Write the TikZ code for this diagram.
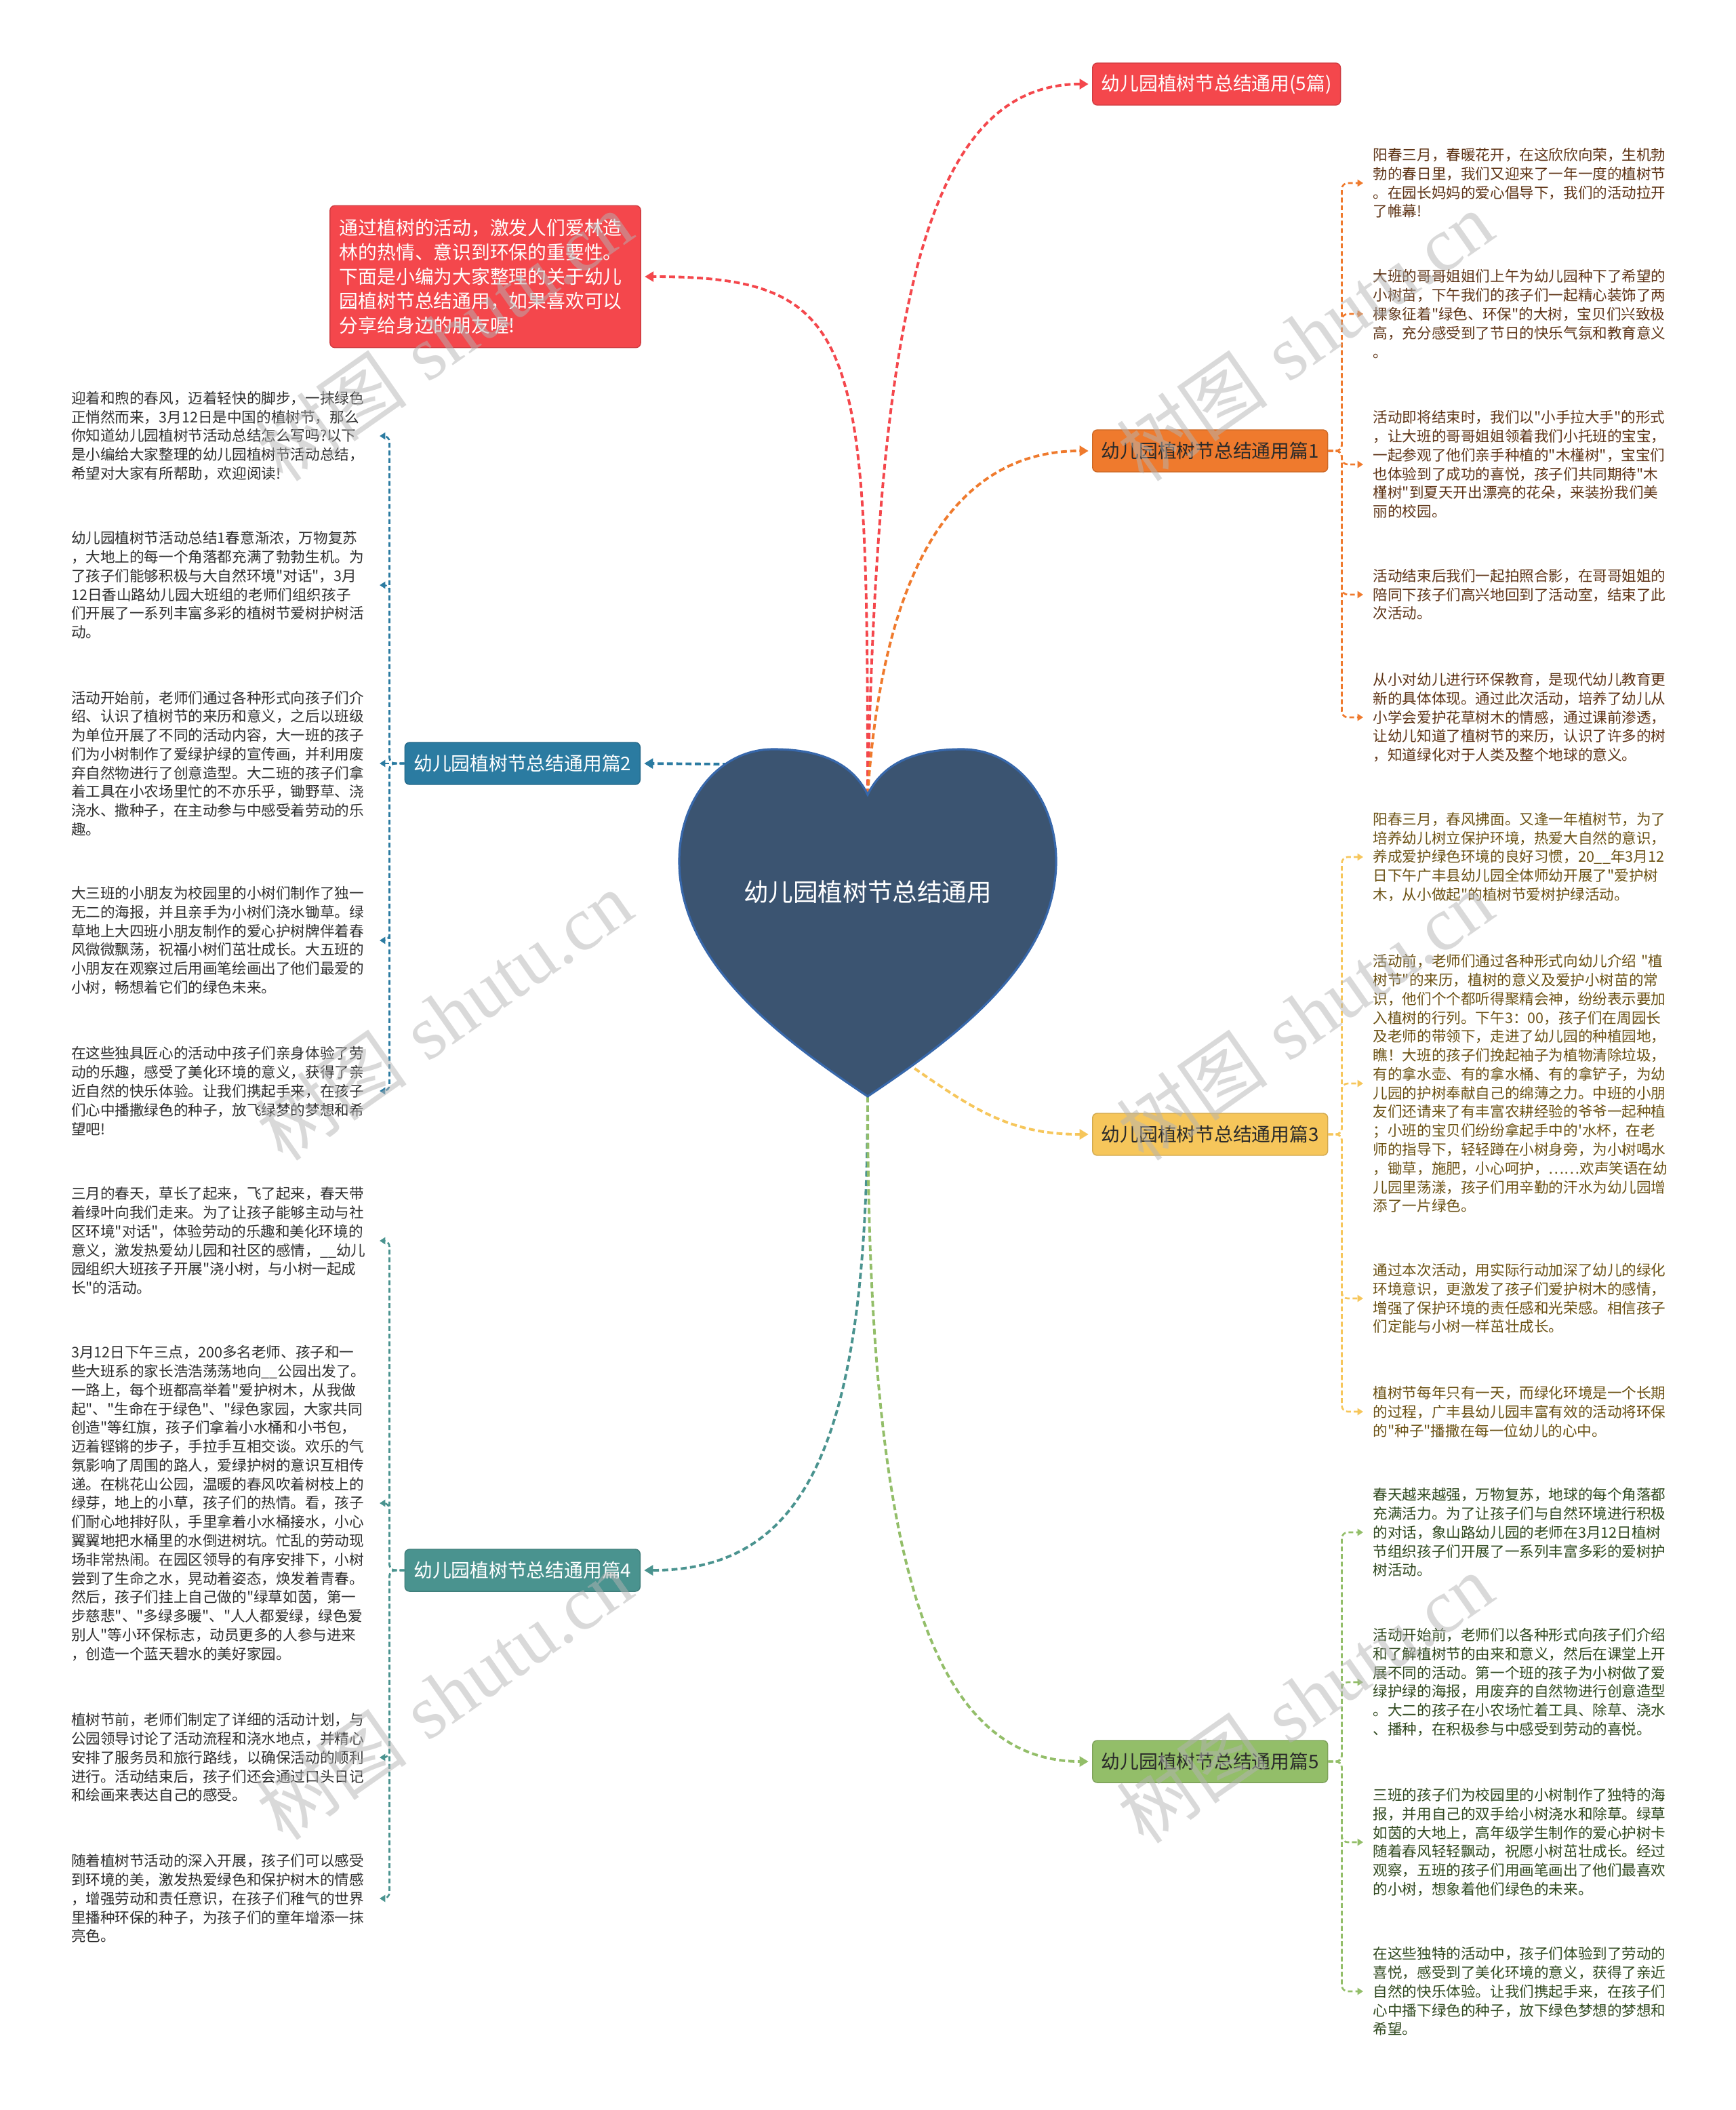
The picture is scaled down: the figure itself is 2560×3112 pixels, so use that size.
\documentclass[tikz,border=0pt]{standalone}
\usepackage{xcolor}
\usepackage{fontspec}
\usepackage{tikz}
\usetikzlibrary{positioning, arrows.meta}
\newfontfamily\cjk{Noto Sans CJK SC}
\newfontfamily\wmlatin{Liberation Serif}

\definecolor{heartfill}{HTML}{3B5471}
\definecolor{heartline}{HTML}{3767AA}
\definecolor{redtopic}{HTML}{F4474C}
\definecolor{orangetopic}{HTML}{EF7A2D}
\definecolor{yellowtopic}{HTML}{F6C65B}
\definecolor{greentopic}{HTML}{93BE69}
\definecolor{bluetopic}{HTML}{2B7BA1}
\definecolor{tealtopic}{HTML}{4A938F}
\definecolor{topicdark}{HTML}{2A2A2A}
\definecolor{orangetext}{HTML}{5E3416}
\definecolor{yellowtext}{HTML}{6B5113}
\definecolor{greentext}{HTML}{30491F}
\definecolor{greytext}{HTML}{2E2E2E}
\definecolor{wmgrey}{HTML}{B4B4B4}

\tikzset{
  topicbox/.style={rounded corners=2pt, line width=0.4pt, inner xsep=3.7pt,
    minimum height=0.62cm, font=\cjk\fontsize{7.9pt}{9.5pt}\selectfont},
  leafbox/.style={inner xsep=0.14cm, inner ysep=0pt, text width=4.40cm, align=left,
    font=\cjk\fontsize{6.14pt}{7.9pt}\selectfont},
  mainlink/.style={line width=1.1pt, dash pattern=on 2.5pt off 1.4pt,
    -{Triangle[length=3.7pt,width=4.2pt]}, shorten >=1.5pt},
  sublink/.style={line width=0.75pt, dash pattern=on 2pt off 1.2pt, rounded corners=2.5pt,
    -{Triangle[length=2.4pt,width=2.9pt]}},
  wmtext/.style={rotate=35, text=wmgrey, text opacity=0.5,
    font=\fontsize{32pt}{32pt}\selectfont}
}

\begin{document}
\begin{tikzpicture}[x=0.01cm, y=-0.01cm]
  \useasboundingbox (0,0) rectangle (2560,3112);

  % points on the heart
  \coordinate (cusp) at (1280,1172);
  \coordinate (tip) at (1280,1617);
  \coordinate (hleft) at (1075,1127);
  \coordinate (hright) at (1338,1568);

  % topics
  \node[topicbox, fill=redtopic, draw=redtopic!85!black, text=white, anchor=west] (sum) at (1611,124) {幼儿园植树节总结通用(5篇)};
  \node[fill=redtopic, draw=redtopic!85!black, rounded corners=2pt, text=white, text width=4.3cm, align=left,
        inner xsep=0.14cm, inner ysep=0.2cm, font=\cjk\fontsize{7.9pt}{10.2pt}\selectfont] (intro) at (716,408) {%
    通过植树的活动，激发人们爱林造\\
    林的热情、意识到环保的重要性。\\
    下面是小编为大家整理的关于幼儿\\
    园植树节总结通用，如果喜欢可以\\
    分享给身边的朋友喔!};
  \node[topicbox, fill=orangetopic, draw=orangetopic!85!black, text=topicdark, anchor=west] (p1) at (1611,665) {幼儿园植树节总结通用篇1};
  \node[topicbox, fill=bluetopic, draw=bluetopic!85!black, text=white, anchor=east] (p2) at (945,1126) {幼儿园植树节总结通用篇2};
  \node[topicbox, fill=yellowtopic, draw=yellowtopic!85!black, text=topicdark, anchor=west] (p3) at (1611,1673) {幼儿园植树节总结通用篇3};
  \node[topicbox, fill=tealtopic, draw=tealtopic!85!black, text=white, anchor=east] (p4) at (945,2316) {幼儿园植树节总结通用篇4};
  \node[topicbox, fill=greentopic, draw=greentopic!85!black, text=topicdark, anchor=west] (p5) at (1611,2598) {幼儿园植树节总结通用篇5};

  % 篇1
  \node[leafbox, text=orangetext, anchor=west] (r1a) at (2011,270) {%
    阳春三月，春暖花开，在这欣欣向荣，生机勃\\
    勃的春日里，我们又迎来了一年一度的植树节\\
    。在园长妈妈的爱心倡导下，我们的活动拉开\\
    了帷幕!};
  \node[leafbox, text=orangetext, anchor=west] (r1b) at (2011,463) {%
    大班的哥哥姐姐们上午为幼儿园种下了希望的\\
    小树苗，下午我们的孩子们一起精心装饰了两\\
    棵象征着"绿色、环保"的大树，宝贝们兴致极\\
    高，充分感受到了节日的快乐气氛和教育意义\\
    。};
  \node[leafbox, text=orangetext, anchor=west] (r1c) at (2011,685) {%
    活动即将结束时，我们以"小手拉大手"的形式\\
    ，让大班的哥哥姐姐领着我们小托班的宝宝，\\
    一起参观了他们亲手种植的"木槿树"，宝宝们\\
    也体验到了成功的喜悦，孩子们共同期待"木\\
    槿树"到夏天开出漂亮的花朵，来装扮我们美\\
    丽的校园。};
  \node[leafbox, text=orangetext, anchor=west] (r1d) at (2011,877) {%
    活动结束后我们一起拍照合影，在哥哥姐姐的\\
    陪同下孩子们高兴地回到了活动室，结束了此\\
    次活动。};
  \node[leafbox, text=orangetext, anchor=west] (r1e) at (2011,1058) {%
    从小对幼儿进行环保教育，是现代幼儿教育更\\
    新的具体体现。通过此次活动，培养了幼儿从\\
    小学会爱护花草树木的情感，通过课前渗透，\\
    让幼儿知道了植树节的来历，认识了许多的树\\
    ，知道绿化对于人类及整个地球的意义。};

  % 篇3
  \node[leafbox, text=yellowtext, anchor=west] (r3a) at (2011,1264) {%
    阳春三月，春风拂面。又逢一年植树节，为了\\
    培养幼儿树立保护环境，热爱大自然的意识，\\
    养成爱护绿色环境的良好习惯，20\_\_年3月12\\
    日下午广丰县幼儿园全体师幼开展了"爱护树\\
    木，从小做起"的植树节爱树护绿活动。};
  \node[leafbox, text=yellowtext, anchor=west] (r3b) at (2011,1598) {%
    活动前，老师们通过各种形式向幼儿介绍 "植\\
    树节"的来历，植树的意义及爱护小树苗的常\\
    识，他们个个都听得聚精会神，纷纷表示要加\\
    入植树的行列。下午3：00，孩子们在周园长\\
    及老师的带领下，走进了幼儿园的种植园地，\\
    瞧！大班的孩子们挽起袖子为植物清除垃圾，\\
    有的拿水壶、有的拿水桶、有的拿铲子，为幼\\
    儿园的护树奉献自己的绵薄之力。中班的小朋\\
    友们还请来了有丰富农耕经验的爷爷一起种植\\
    ；小班的宝贝们纷纷拿起手中的'水杯，在老\\
    师的指导下，轻轻蹲在小树身旁，为小树喝水\\
    ，锄草，施肥，小心呵护，……欢声笑语在幼\\
    儿园里荡漾，孩子们用辛勤的汗水为幼儿园增\\
    添了一片绿色。};
  \node[leafbox, text=yellowtext, anchor=west] (r3c) at (2011,1915) {%
    通过本次活动，用实际行动加深了幼儿的绿化\\
    环境意识，更激发了孩子们爱护树木的感情，\\
    增强了保护环境的责任感和光荣感。相信孩子\\
    们定能与小树一样茁壮成长。};
  \node[leafbox, text=yellowtext, anchor=west] (r3d) at (2011,2082) {%
    植树节每年只有一天，而绿化环境是一个长期\\
    的过程，广丰县幼儿园丰富有效的活动将环保\\
    的"种子"播撒在每一位幼儿的心中。};

  % 篇5
  \node[leafbox, text=greentext, anchor=west] (r5a) at (2011,2260) {%
    春天越来越强，万物复苏，地球的每个角落都\\
    充满活力。为了让孩子们与自然环境进行积极\\
    的对话，象山路幼儿园的老师在3月12日植树\\
    节组织孩子们开展了一系列丰富多彩的爱树护\\
    树活动。};
  \node[leafbox, text=greentext, anchor=west] (r5b) at (2011,2481) {%
    活动开始前，老师们以各种形式向孩子们介绍\\
    和了解植树节的由来和意义，然后在课堂上开\\
    展不同的活动。第一个班的孩子为小树做了爱\\
    绿护绿的海报，用废弃的自然物进行创意造型\\
    。大二的孩子在小农场忙着工具、除草、浇水\\
    、播种，在积极参与中感受到劳动的喜悦。};
  \node[leafbox, text=greentext, anchor=west] (r5c) at (2011,2717) {%
    三班的孩子们为校园里的小树制作了独特的海\\
    报，并用自己的双手给小树浇水和除草。绿草\\
    如茵的大地上，高年级学生制作的爱心护树卡\\
    随着春风轻轻飘动，祝愿小树茁壮成长。经过\\
    观察，五班的孩子们用画笔画出了他们最喜欢\\
    的小树，想象着他们绿色的未来。};
  \node[leafbox, text=greentext, anchor=west] (r5d) at (2011,2937) {%
    在这些独特的活动中，孩子们体验到了劳动的\\
    喜悦，感受到了美化环境的意义，获得了亲近\\
    自然的快乐体验。让我们携起手来，在孩子们\\
    心中播下绿色的种子，放下绿色梦想的梦想和\\
    希望。};

  % 篇2
  \node[leafbox, text=greytext, anchor=east] (l2a) at (560,643) {%
    迎着和煦的春风，迈着轻快的脚步，一抹绿色\\
    正悄然而来，3月12日是中国的植树节，那么\\
    你知道幼儿园植树节活动总结怎么写吗?以下\\
    是小编给大家整理的幼儿园植树节活动总结，\\
    希望对大家有所帮助，欢迎阅读!};
  \node[leafbox, text=greytext, anchor=east] (l2b) at (560,863) {%
    幼儿园植树节活动总结1春意渐浓，万物复苏\\
    ，大地上的每一个角落都充满了勃勃生机。为\\
    了孩子们能够积极与大自然环境"对话"，3月\\
    12日香山路幼儿园大班组的老师们组织孩子\\
    们开展了一系列丰富多彩的植树节爱树护树活\\
    动。};
  \node[leafbox, text=greytext, anchor=east] (l2c) at (560,1126) {%
    活动开始前，老师们通过各种形式向孩子们介\\
    绍、认识了植树节的来历和意义，之后以班级\\
    为单位开展了不同的活动内容，大一班的孩子\\
    们为小树制作了爱绿护绿的宣传画，并利用废\\
    弃自然物进行了创意造型。大二班的孩子们拿\\
    着工具在小农场里忙的不亦乐乎，锄野草、浇\\
    浇水、撒种子，在主动参与中感受着劳动的乐\\
    趣。};
  \node[leafbox, text=greytext, anchor=east] (l2d) at (560,1387) {%
    大三班的小朋友为校园里的小树们制作了独一\\
    无二的海报，并且亲手为小树们浇水锄草。绿\\
    草地上大四班小朋友制作的爱心护树牌伴着春\\
    风微微飘荡，祝福小树们茁壮成长。大五班的\\
    小朋友在观察过后用画笔绘画出了他们最爱的\\
    小树，畅想着它们的绿色未来。};
  \node[leafbox, text=greytext, anchor=east] (l2e) at (560,1609) {%
    在这些独具匠心的活动中孩子们亲身体验了劳\\
    动的乐趣，感受了美化环境的意义，获得了亲\\
    近自然的快乐体验。让我们携起手来，在孩子\\
    们心中播撒绿色的种子，放飞绿梦的梦想和希\\
    望吧!};

  % 篇4
  \node[leafbox, text=greytext, anchor=east] (l4a) at (560,1830) {%
    三月的春天，草长了起来，飞了起来，春天带\\
    着绿叶向我们走来。为了让孩子能够主动与社\\
    区环境"对话"，体验劳动的乐趣和美化环境的\\
    意义，激发热爱幼儿园和社区的感情，\_\_幼儿\\
    园组织大班孩子开展"浇小树，与小树一起成\\
    长"的活动。};
  \node[leafbox, text=greytext, anchor=east] (l4b) at (560,2217) {%
    3月12日下午三点，200多名老师、孩子和一\\
    些大班系的家长浩浩荡荡地向\_\_公园出发了。\\
    一路上，每个班都高举着"爱护树木，从我做\\
    起"、"生命在于绿色"、"绿色家园，大家共同\\
    创造"等红旗，孩子们拿着小水桶和小书包，\\
    迈着铿锵的步子，手拉手互相交谈。欢乐的气\\
    氛影响了周围的路人，爱绿护树的意识互相传\\
    递。在桃花山公园，温暖的春风吹着树枝上的\\
    绿芽，地上的小草，孩子们的热情。看，孩子\\
    们耐心地排好队，手里拿着小水桶接水，小心\\
    翼翼地把水桶里的水倒进树坑。忙乱的劳动现\\
    场非常热闹。在园区领导的有序安排下，小树\\
    尝到了生命之水，晃动着姿态，焕发着青春。\\
    然后，孩子们挂上自己做的"绿草如茵，第一\\
    步慈悲"、"多绿多暖"、"人人都爱绿，绿色爱\\
    别人"等小环保标志，动员更多的人参与进来\\
    ，创造一个蓝天碧水的美好家园。};
  \node[leafbox, text=greytext, anchor=east] (l4c) at (560,2592) {%
    植树节前，老师们制定了详细的活动计划，与\\
    公园领导讨论了活动流程和浇水地点，并精心\\
    安排了服务员和旅行路线，以确保活动的顺利\\
    进行。活动结束后，孩子们还会通过口头日记\\
    和绘画来表达自己的感受。};
  \node[leafbox, text=greytext, anchor=east] (l4d) at (560,2800) {%
    随着植树节活动的深入开展，孩子们可以感受\\
    到环境的美，激发热爱绿色和保护树木的情感\\
    ，增强劳动和责任意识，在孩子们稚气的世界\\
    里播种环保的种子，为孩子们的童年增添一抹\\
    亮色。};

  % branches
  \foreach \kid in {r1a,r1b,r1c,r1d,r1e}
    \draw[sublink, orangetopic] (p1.east) -- ++(20,0) |- (\kid.west);
  \foreach \kid in {r3a,r3b,r3c,r3d}
    \draw[sublink, yellowtopic] (p3.east) -- ++(20,0) |- (\kid.west);
  \foreach \kid in {r5a,r5b,r5c,r5d}
    \draw[sublink, greentopic] (p5.east) -- ++(20,0) |- (\kid.west);
  \foreach \kid in {l2a,l2b,l2d,l2e}
    \draw[sublink, bluetopic] (p2.west) -- ++(-22,0) |- (\kid.east);
  \draw[sublink, bluetopic] (p2.west) -- (l2c.east);
  \foreach \kid in {l4a,l4b,l4c,l4d}
    \draw[sublink, tealtopic] (p4.west) -- ++(-22,0) |- (\kid.east);

  \draw[mainlink, redtopic] (cusp) .. controls +(15,-700) and +(-250,0) .. (sum.west);
  \draw[mainlink, redtopic] (cusp) .. controls +(0,-672) and +(324,0) .. (intro.east);
  \draw[mainlink, orangetopic] (cusp) .. controls +(20,-300) and +(-220,0) .. (p1.west);
  \draw[mainlink, bluetopic] (hleft) -- (p2.east);
  \draw[mainlink, yellowtopic] (hright) .. controls +(100,70) and +(-120,0) .. (p3.west);
  \draw[mainlink, tealtopic] (tip) .. controls +(0,500) and +(250,0) .. (p4.east);
  \draw[mainlink, greentopic] (tip) .. controls +(0,650) and +(-250,0) .. (p5.west);

  % heart
  \draw[heartline, fill=heartfill, line width=0.9pt]
    (cusp) .. controls (1255,1120) and (1200,1105) .. (1141,1105)
    .. controls (1060,1105) and (1002,1180) .. (1002,1270)
    .. controls (1002,1420) and (1150,1530) .. (tip)
    .. controls (1410,1530) and (1558,1420) .. (1558,1270)
    .. controls (1558,1180) and (1500,1105) .. (1419,1105)
    .. controls (1360,1105) and (1305,1120) .. (cusp) -- cycle;
  \node[text=white, font=\cjk\fontsize{10.4pt}{12pt}\selectfont] (hub) at (1280,1316) {幼儿园植树节总结通用};

  % watermarks
  \foreach \wx/\wy [count=\w] in {655/496, 1925/496, 655/1498, 1925/1498, 655/2500, 1925/2505}
    \node[wmtext] (wm\w) at (\wx,\wy) {{\cjk 树图} {\wmlatin shutu.cn}};
\end{tikzpicture}
\end{document}
